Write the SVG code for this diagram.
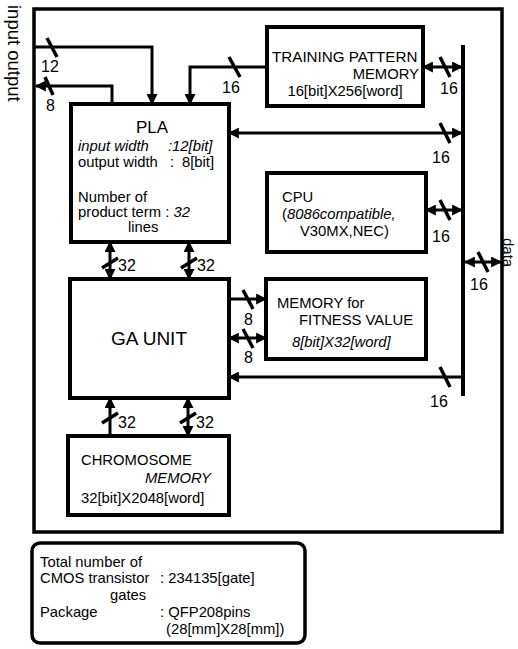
<svg xmlns="http://www.w3.org/2000/svg" width="518" height="649" viewBox="0 0 518 649">
<style>
.box{fill:#fff;stroke:#000;stroke-width:4}
.frame{fill:none;stroke:#000;stroke-width:3.5}
.ln{fill:none;stroke:#000;stroke-width:3}
.tick{stroke:#000;stroke-width:3.5;stroke-linecap:butt}
text{font-family:"Liberation Sans",Arial,Helvetica,sans-serif;font-size:14.8px;fill:#000}
.it{font-style:italic}
.lbl{font-size:16px}
.big{font-size:17px}
.ga{font-size:19px}
</style>
<defs>
<marker id="ah" viewBox="0 0 10 10" refX="9" refY="5" markerWidth="11" markerHeight="11" markerUnits="userSpaceOnUse" orient="auto-start-reverse">
<path d="M0,0 L10,5 L0,10 z" fill="#000"/>
</marker>
</defs>
<rect class="frame" x="34" y="9" width="468" height="523"/>
<text x="8" y="5" transform="rotate(90 8 5)" style="font-size:18.5px">input output</text>
<text x="503" y="238" transform="rotate(90 503 238)" style="font-size:15px">data</text>
<line x1="463" y1="45" x2="463" y2="396" stroke="#000" stroke-width="4"/>
<g id="pla">
<rect class="box" x="71" y="104" width="158" height="138"/>
<text class="big" x="152" y="133" text-anchor="middle">PLA</text>
<text class="it" x="78" y="151">input width</text>
<text class="it" x="168" y="151">:12[bit]</text>
<text x="78" y="167">output width</text>
<text x="170" y="167">:</text>
<text x="182" y="167">8[bit]</text>
<text x="78" y="202">Number of</text>
<text x="78" y="217">product term : <tspan class="it">32</tspan></text>
<text x="128" y="232">lines</text>
</g>
<g id="training">
<rect class="box" x="267" y="27" width="156" height="79"/>
<text x="272" y="62" style="font-size:15.2px">TRAINING PATTERN</text>
<text x="419" y="79" text-anchor="end">MEMORY</text>
<text x="345" y="96" text-anchor="middle">16[bit]X256[word]</text>
</g>
<g id="cpu">
<rect class="box" x="267" y="173" width="159" height="79"/>
<text x="282" y="202">CPU</text>
<text x="282" y="219">(<tspan class="it">8086compatible,</tspan></text>
<text x="300" y="236">V30MX,NEC)</text>
</g>
<g id="ga">
<rect class="box" x="70" y="279" width="159" height="119"/>
<text class="ga" x="149" y="345" text-anchor="middle">GA UNIT</text>
</g>
<g id="fitness">
<rect class="box" x="266" y="279" width="160" height="80"/>
<text x="277" y="308">MEMORY for</text>
<text x="299" y="325">FITNESS VALUE</text>
<text class="it" x="292" y="347">8[bit]X32[word]</text>
</g>
<g id="chromosome">
<rect class="box" x="68" y="436" width="161" height="79"/>
<text x="81" y="465">CHROMOSOME</text>
<text class="it" x="211" y="483" text-anchor="end">MEMORY</text>
<text x="81" y="503">32[bit]X2048[word]</text>
</g>
<g id="summary">
<rect x="32" y="543" width="273" height="100" rx="8" fill="#fff" stroke="#000" stroke-width="3.5"/>
<text x="40" y="567">Total number of</text>
<text x="40" y="583">CMOS transistor</text>
<text x="160" y="583">: 234135[gate]</text>
<text x="110" y="600">gates</text>
<text x="40" y="617">Package</text>
<text x="160" y="617">: QFP208pins</text>
<text x="166" y="634">(28[mm]X28[mm])</text>
</g>
<g id="connectors">
<polyline class="ln" points="35,47 152,47 152,104" marker-end="url(#ah)"/>
<line class="tick" x1="47" y1="38" x2="57" y2="57"/>
<text class="lbl" x="41" y="72">12</text>
<polyline class="ln" points="112,104 112,86 36,86" marker-end="url(#ah)"/>
<line class="tick" x1="45" y1="77" x2="53" y2="95"/>
<text class="lbl" x="46" y="111">8</text>
<polyline class="ln" points="267,67 190,67 190,104" marker-end="url(#ah)"/>
<line class="tick" x1="229" y1="57" x2="240" y2="77"/>
<text class="lbl" x="222" y="93">16</text>
<line class="ln" x1="423" y1="67" x2="462" y2="67" marker-start="url(#ah)" marker-end="url(#ah)"/>
<line class="tick" x1="440" y1="57" x2="450" y2="77"/>
<text class="lbl" x="440" y="94">16</text>
<line class="ln" x1="229" y1="133" x2="462" y2="133" marker-start="url(#ah)" marker-end="url(#ah)"/>
<line class="tick" x1="440" y1="123" x2="450" y2="143"/>
<text class="lbl" x="432" y="163">16</text>
<line class="ln" x1="426" y1="210" x2="462" y2="210" marker-start="url(#ah)" marker-end="url(#ah)"/>
<line class="tick" x1="440" y1="200" x2="450" y2="220"/>
<text class="lbl" x="432" y="242">16</text>
<line class="ln" x1="465" y1="262" x2="501" y2="262" marker-start="url(#ah)" marker-end="url(#ah)"/>
<line class="tick" x1="478" y1="252" x2="488" y2="272"/>
<text class="lbl" x="470" y="290">16</text>
<line class="ln" x1="110" y1="242" x2="110" y2="279" marker-start="url(#ah)" marker-end="url(#ah)"/>
<line class="tick" x1="102" y1="268" x2="118" y2="258"/>
<text class="lbl" x="118" y="271">32</text>
<line class="ln" x1="189" y1="242" x2="189" y2="279" marker-start="url(#ah)" marker-end="url(#ah)"/>
<line class="tick" x1="181" y1="268" x2="197" y2="258"/>
<text class="lbl" x="197" y="271">32</text>
<line class="ln" x1="229" y1="299" x2="266" y2="299" marker-end="url(#ah)"/>
<line class="tick" x1="243" y1="290" x2="253" y2="309"/>
<text class="lbl" x="244" y="325">8</text>
<line class="ln" x1="229" y1="338" x2="266" y2="338" marker-start="url(#ah)" marker-end="url(#ah)"/>
<line class="tick" x1="243" y1="329" x2="253" y2="348"/>
<text class="lbl" x="244" y="363">8</text>
<line class="ln" x1="462" y1="377" x2="229" y2="377" marker-end="url(#ah)"/>
<line class="tick" x1="440" y1="367" x2="450" y2="387"/>
<text class="lbl" x="430" y="407">16</text>
<line class="ln" x1="110" y1="436" x2="110" y2="398" marker-end="url(#ah)"/>
<line class="tick" x1="102" y1="423" x2="118" y2="413"/>
<text class="lbl" x="118" y="428">32</text>
<line class="ln" x1="188" y1="398" x2="188" y2="436" marker-start="url(#ah)" marker-end="url(#ah)"/>
<line class="tick" x1="180" y1="423" x2="196" y2="413"/>
<text class="lbl" x="196" y="428">32</text>
</g>
</svg>
